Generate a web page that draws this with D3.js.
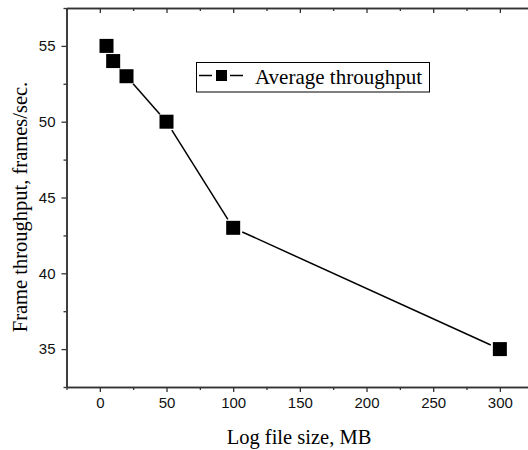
<!DOCTYPE html>
<html><head><meta charset="utf-8">
<script src="https://cdn.jsdelivr.net/npm/d3@7"></script>
<style>body{margin:0;background:#fff}svg{display:block}</style>
</head><body>
<svg id="c" width="528" height="450"></svg>
<script>
const sizes = [5, 10, 20, 50, 100, 300];
const throughput = [55, 54, 53, 50, 43, 35];
const xTicks = [0, 50, 100, 150, 200, 250, 300];
const yTicks = [35, 40, 45, 50, 55];
const seriesName = "Average throughput";
const xTitle = "Log file size, MB";
const yTitle = "Frame throughput, frames/sec.";

const svg = d3.select("#c");
const L = 66.5, T = 8, B = 387;
const x = d3.scaleLinear().domain([-25, 325]).range([L, L + 466.7]);
const y = d3.scaleLinear().domain([32.5, 57.5]).range([B, T]);

const axisFont = "'Liberation Sans', Arial, sans-serif";
const serif = "'Liberation Serif', 'Times New Roman', serif";

const xMinor = d3.range(-25, 326, 25).filter(v => !xTicks.includes(v));
const yMinor = d3.range(32.5, 57.6, 2.5).filter(v => !yTicks.includes(v));

const g = svg.append("g");
g.append("g").attr("transform", `translate(0,${B})`)
  .call(d3.axisBottom(x).tickValues(xTicks).tickSize(5).tickPadding(5).tickSizeOuter(0));
g.append("g").attr("transform", `translate(0,${B})`)
  .call(d3.axisBottom(x).tickValues(xMinor).tickSize(3).tickFormat("").tickSizeOuter(0));
g.append("g").attr("transform", `translate(0,${T})`)
  .call(d3.axisBottom(x).tickValues(xTicks).tickSize(5).tickFormat("").tickSizeOuter(0));
g.append("g").attr("transform", `translate(0,${T})`)
  .call(d3.axisBottom(x).tickValues(xMinor).tickSize(3).tickFormat("").tickSizeOuter(0));
g.append("g").attr("transform", `translate(${L},0)`)
  .call(d3.axisLeft(y).tickValues(yTicks).tickSize(5).tickPadding(6).tickSizeOuter(0));
g.append("g").attr("transform", `translate(${L},0)`)
  .call(d3.axisLeft(y).tickValues(yMinor).tickSize(3).tickFormat("").tickSizeOuter(0));

g.selectAll(".domain").attr("stroke", "#333").attr("stroke-width", 1.5);
g.selectAll(".tick line").attr("stroke", "#333").attr("stroke-width", 1.3);
g.selectAll(".tick text").attr("font-family", axisFont).attr("font-size", 15).attr("fill", "#111");

const pts = sizes.map((s, i) => [x(s), y(throughput[i])]);
const gap = 10;
for (let i = 0; i < pts.length - 1; i++) {
  const [x0, y0] = pts[i], [x1, y1] = pts[i + 1];
  const dx = x1 - x0, dy = y1 - y0, len = Math.hypot(dx, dy);
  if (len <= 2 * gap) continue;
  const ux = dx / len, uy = dy / len;
  svg.append("line")
    .attr("x1", x0 + ux * gap).attr("y1", y0 + uy * gap)
    .attr("x2", x1 - ux * gap).attr("y2", y1 - uy * gap)
    .attr("stroke", "#000").attr("stroke-width", 1.5);
}
const ms = 14;
svg.selectAll("rect.m").data(sizes).enter().append("rect")
  .attr("class", "m")
  .attr("x", (d) => x(d) - ms / 2)
  .attr("y", (d, i) => y(throughput[i]) - ms / 2)
  .attr("width", ms).attr("height", ms).attr("fill", "#000");

const lg = svg.append("g");
lg.append("rect").attr("x", 196.5).attr("y", 62.5).attr("width", 233).attr("height", 29.5)
  .attr("fill", "#fff").attr("stroke", "#000").attr("stroke-width", 1);
lg.append("line").attr("x1", 199).attr("x2", 212).attr("y1", 75.5).attr("y2", 75.5).attr("stroke", "#000").attr("stroke-width", 1.5);
lg.append("line").attr("x1", 230).attr("x2", 243).attr("y1", 75.5).attr("y2", 75.5).attr("stroke", "#000").attr("stroke-width", 1.5);
lg.append("rect").attr("x", 216).attr("y", 70).attr("width", 11).attr("height", 11).attr("fill", "#000");
lg.append("text").attr("x", 255).attr("y", 83.5).attr("font-family", serif).attr("font-size", 21)
  .attr("fill", "#000").text(seriesName);

svg.append("text").attr("x", 299).attr("y", 444).attr("text-anchor", "middle")
  .attr("font-family", serif).attr("font-size", 20.5).attr("fill", "#000").text(xTitle);
svg.append("text").attr("transform", `translate(27,207) rotate(-90)`)
  .attr("text-anchor", "middle").attr("font-family", serif).attr("font-size", 20.5)
  .attr("fill", "#000").text(yTitle);
</script>
</body></html>
